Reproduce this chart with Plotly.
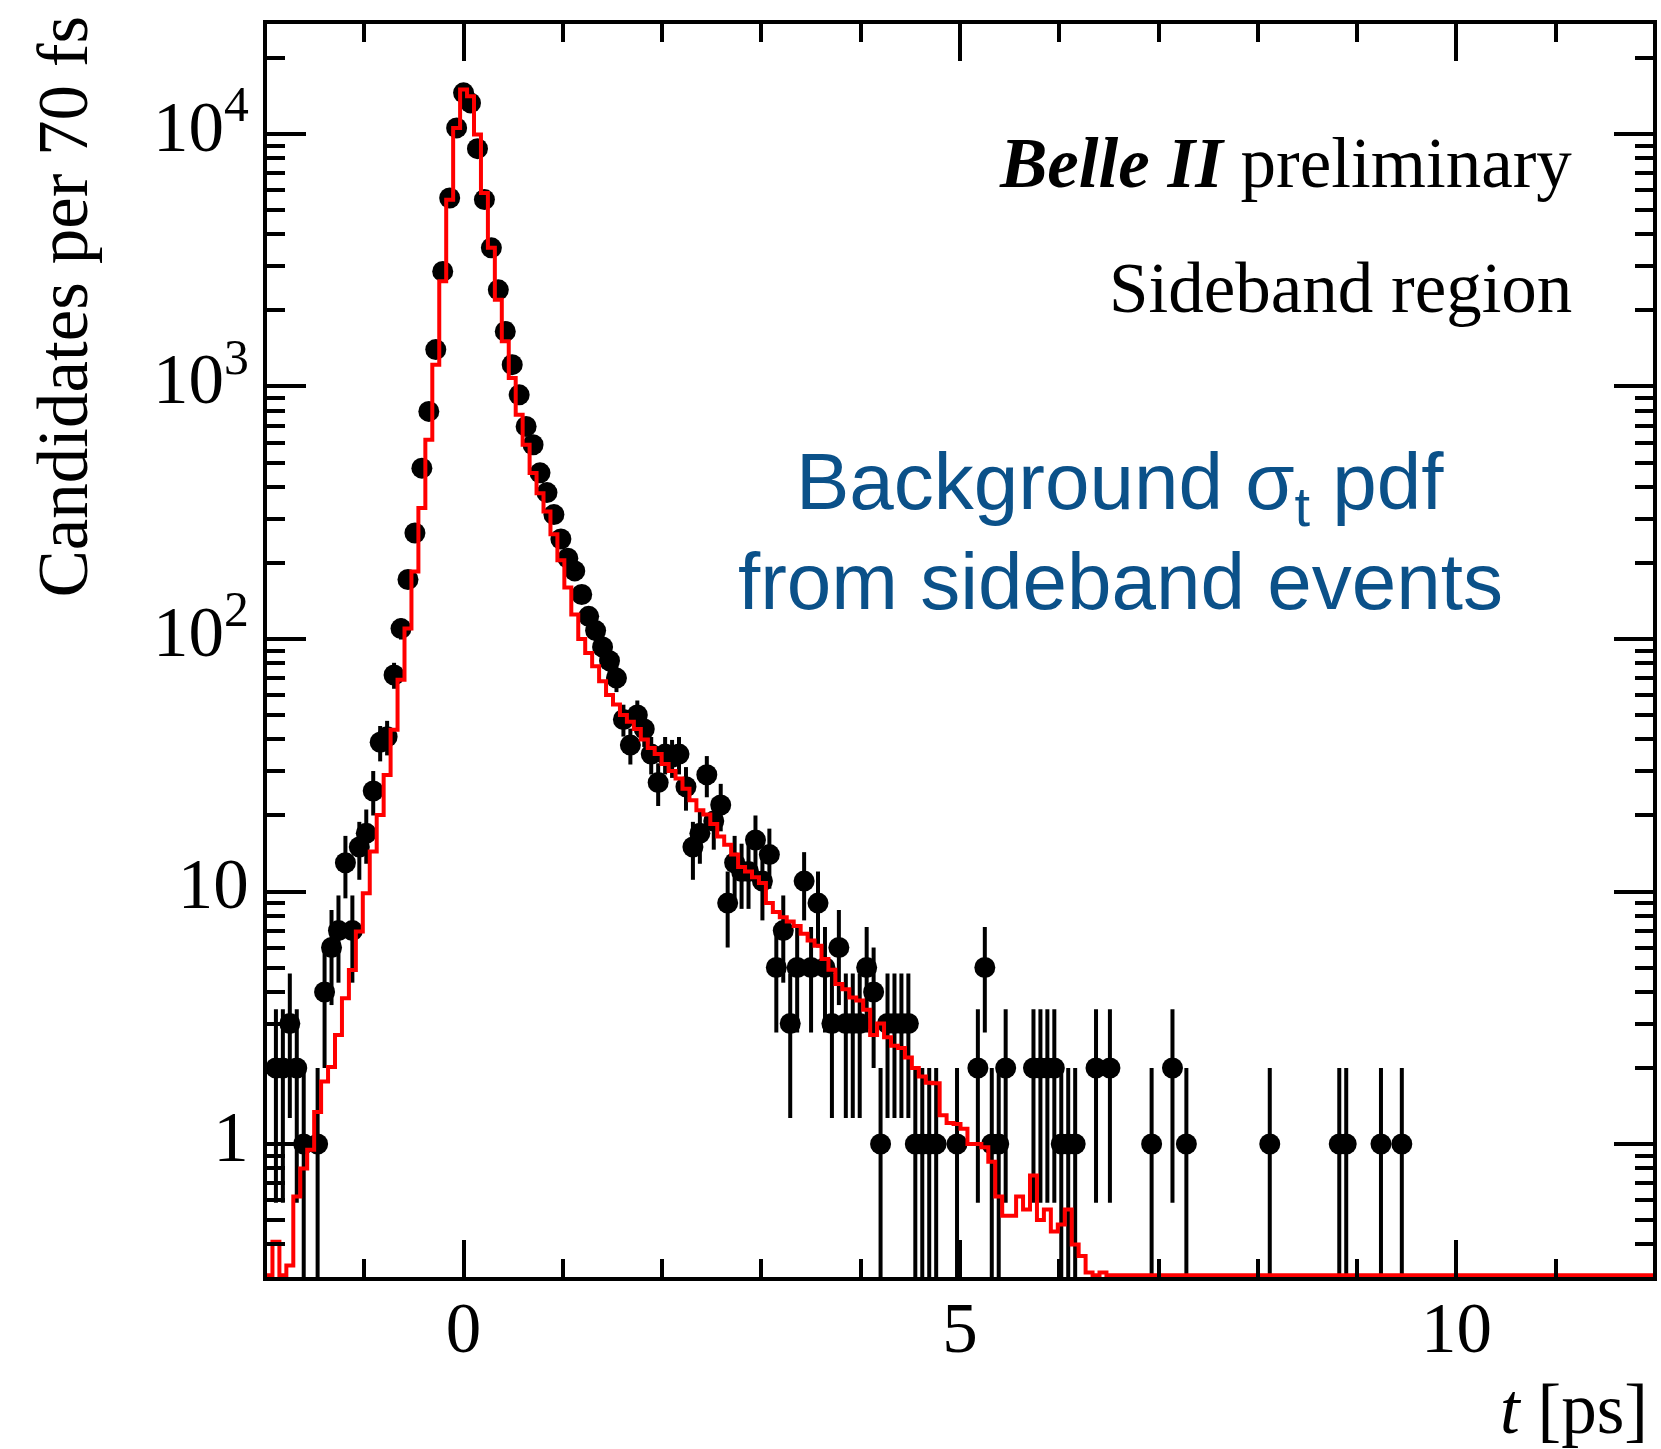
import numpy as np
import plotly.graph_objects as go

# Decay-time distribution, 70 fs bins centred on multiples of 70 fs
BIN_WIDTH = 0.07  # ps

# Candidates per bin (only non-empty bins), keyed by bin index k (t = 0.07*k)
data_bins = [-27, -26, -25, -24, -23, -21, -20, -19, -18, -17, -16, -15, -14, -13,
             -12, -11, -10, -9, -8, -7, -6, -5, -4, -3, -2, -1, 0, 1, 2, 3, 4, 5,
             6, 7, 8, 9, 10, 11, 12, 13, 14, 15, 16, 17, 18, 19, 20, 21, 22, 23,
             24, 25, 26, 27, 28, 29, 30, 31, 32, 33, 34, 35, 36, 37, 38, 39, 40,
             41, 42, 43, 44, 45, 46, 47, 48, 49, 50, 51, 52, 53, 54, 55, 56, 57,
             58, 59, 60, 61, 62, 63, 64, 65, 66, 67, 68, 71, 74, 75, 76, 77, 78,
             82, 83, 84, 85, 86, 87, 88, 91, 93, 99, 102, 104, 116, 126, 127,
             132, 135]
data_counts = [2, 2, 3, 2, 1, 1, 4, 6, 7, 13, 7, 15, 17, 25,
               39, 41, 72, 110, 172, 263, 475, 797, 1400, 2857, 5580, 10570, 14550, 13280, 8750, 5500, 3540, 2415,
               1652, 1220, 927, 695, 588, 455, 380, 311, 249, 209, 186, 150, 123, 108, 93, 82, 70, 48,
               38, 50, 44, 35, 27, 35, 34, 35, 26, 15, 17, 29, 19, 22, 9, 13, 12,
               12, 16, 11, 14, 5, 7, 3, 5, 11, 5, 9, 5, 3, 6, 3, 3, 3,
               5, 4, 1, 3, 3, 3, 3, 1, 1, 1, 1, 1, 2, 5, 1, 1, 2,
               2, 2, 2, 2, 1, 1, 1, 2, 2, 1, 2, 1, 1, 1, 1,
               1, 1]

# Background sigma_t pdf projection per bin, starting at bin index -28
model_first_bin = -28
model_vals = [0.0, 0.41, 0.2, 0.33, 0.62, 0.80, 0.95, 1.34, 1.77, 2.02, 2.70, 3.78, 4.89,
              6.94, 9.85, 14.4, 20.1, 28.9, 43.7, 68.9, 110, 185, 330, 615, 1220, 2610,
              5495, 10570, 15000, 14100, 9950, 5845, 3540, 2208, 1510, 1081, 773, 588,
              454, 378, 320, 260, 205, 160, 125, 100, 88, 78, 68, 60, 55, 50, 47, 44, 40,
              37, 35, 32, 30, 28, 25.5, 23, 21, 20.2, 18.5, 16.5, 15.3, 14.0, 12.5, 12.0,
              11.4, 10.8, 9.0, 8.3, 7.9, 7.6, 7.3, 6.8, 6.4, 6.1, 5.4, 4.9, 4.3, 4.1, 3.8,
              3.7, 3.4, 2.7, 3.0, 2.65, 2.45, 2.4, 2.2, 2.0, 1.85, 1.75, 1.74, 1.3, 1.21,
              1.2, 1.15, 1.0, 1.0, 0.97, 0.85, 0.62, 0.52, 0.52, 0.62, 0.55, 0.75, 0.5,
              0.55, 0.45, 0.48, 0.55, 0.4, 0.36, 0.31, 0.30, 0.31, 0.0]
n_bins = 200  # histogram spans -2 to 12 ps

x_range = [-2.0, 12.0]
y_log_range = [-0.5267, 4.4356]

y_major = [1, 10, 100, 1000, 10000]
y_major_text = ["1", "10", "10<sup>2</sup>", "10<sup>3</sup>", "10<sup>4</sup>"]
y_minor = [m * 10.0 ** e for e in range(-1, 5) for m in range(2, 10)
           if 10 ** y_log_range[0] <= m * 10.0 ** e <= 10 ** y_log_range[1]]
x_major = [0, 5, 10]
x_minor = [v for v in range(-2, 13) if v not in x_major]

SERIF = "Liberation Serif, Times New Roman, serif"
SANS = "Liberation Sans, Arial, Helvetica, sans-serif"
FS = 71

# ---- points with Poisson errors
k = np.array(data_bins)
n = np.array(data_counts, dtype=float)
t = k * BIN_WIDTH
err = np.sqrt(n)
err_lo = np.where(n - err <= 0, n - 1e-4, err)

# ---- pdf histogram as a step line through the bin edges
mv = np.array(model_vals + [0.0] * (n_bins - len(model_vals)), dtype=float)
edges = (np.arange(model_first_bin, model_first_bin + n_bins) - 0.5) * BIN_WIDTH
floor = 10 ** (y_log_range[0] + 0.007)  # empty bins are drawn along the frame bottom
step_x = np.append(edges, edges[-1] + BIN_WIDTH)
step_y = np.maximum(np.append(mv, mv[-1]), floor)

fig = go.Figure()
fig.add_trace(go.Scatter(
    x=t, y=n, mode="markers",
    marker=dict(color="black", size=21, symbol="circle"),
    error_y=dict(type="data", symmetric=False, array=err, arrayminus=err_lo,
                 color="black", thickness=4, width=0),
    hoverinfo="skip"))
fig.add_trace(go.Scatter(
    x=step_x, y=step_y, mode="lines", line=dict(color="#ff0000", width=4, shape="hv"),
    hoverinfo="skip"))

axis_common = dict(showline=True, linewidth=4, linecolor="black", mirror="ticks",
                   ticks="inside", tickwidth=4, tickcolor="black", showgrid=False,
                   zeroline=False, tickfont=dict(family=SERIF, size=FS, color="black"))
pxu = 1392.0 / 14.0
fig.update_xaxes(range=[x_range[0] + 2 / pxu, x_range[1] - 2 / pxu],
                 tickmode="array", tickvals=x_major, ticktext=[str(v) for v in x_major],
                 ticklen=37, ticklabelstandoff=-14,
                 minor=dict(ticks="inside", ticklen=18, tickwidth=4, tickcolor="black",
                            tickmode="array", tickvals=x_minor),
                 **axis_common)
fig.update_yaxes(type="log", range=y_log_range, tickmode="array",
                 tickvals=y_major, ticktext=y_major_text, ticklen=39,
                 ticklabelshift=-8,
                 minor=dict(ticks="inside", ticklen=18, tickwidth=4, tickcolor="black",
                            tickmode="array", tickvals=y_minor),
                 **axis_common)

annotations = [
    dict(text="<b><i>Belle II</i></b> preliminary", x=0.943, y=0.889,
         xanchor="right", yanchor="middle", font=dict(family=SERIF, size=FS, color="black")),
    dict(text="Sideband region", x=0.943, y=0.789,
         xanchor="right", yanchor="middle", font=dict(family=SERIF, size=FS, color="black")),
    dict(text="Background σ<sub>t</sub> pdf", x=0.6158, y=0.6297,
         xanchor="center", yanchor="middle", font=dict(family=SANS, size=80, color="#0b5189")),
    dict(text="from sideband events", x=0.6158, y=0.5547,
         xanchor="center", yanchor="middle", font=dict(family=SANS, size=80, color="#0b5189")),
    dict(text="Candidates per 70 fs", x=-0.1468, y=0.7741, textangle=-90,
         xanchor="center", yanchor="middle", font=dict(family=SERIF, size=FS, color="black")),
    dict(text="<i>t</i> [ps]", x=0.998, y=-0.1055,
         xanchor="right", yanchor="middle", font=dict(family=SERIF, size=FS, color="black")),
]
for a in annotations:
    a.update(xref="paper", yref="paper", showarrow=False)

fig.update_layout(width=1661, height=1449, autosize=False,
                  margin=dict(l=267, r=4, t=24, b=172),
                  plot_bgcolor="white", paper_bgcolor="white",
                  showlegend=False, annotations=annotations)

fig.write_html("out.html", config=dict(displayModeBar=False))
